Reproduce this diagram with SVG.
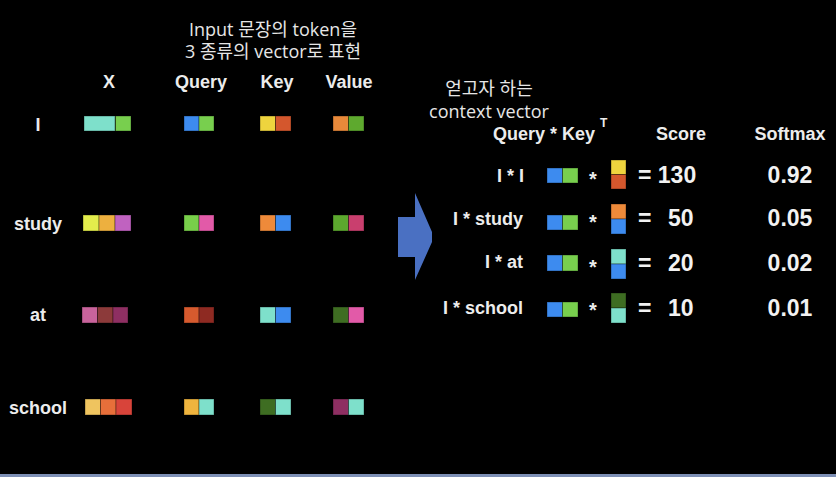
<svg xmlns="http://www.w3.org/2000/svg" width="836" height="477" viewBox="0 0 836 477">
<style>
.lbl{font-family:"Liberation Sans",Arial,sans-serif;font-weight:bold;font-size:18px;fill:#ececec}
.star{font-family:"Liberation Sans",Arial,sans-serif;font-weight:bold;font-size:20px;fill:#ececec}
.num{font-family:"Liberation Sans",Arial,sans-serif;font-weight:bold;font-size:23px;fill:#f2f2f2}
.kr{font-family:"Open Sans","Noto Sans CJK KR",sans-serif;font-size:18px;fill:#e6e6e6}
.c{stroke:#000;stroke-opacity:0.35;stroke-width:1}
</style>
<rect x="0" y="0" width="836" height="477" fill="#000"/>
<rect x="0" y="474" width="836" height="3" fill="#7d8fb5"/>

<g id="title">
<text class="kr" x="273" y="36" text-anchor="middle">Input 문장의 token을</text>
<text class="kr" x="273" y="58" text-anchor="middle">3 종류의 vector로 표현</text>
</g>

<g id="headers">
<text class="lbl" x="109" y="88" text-anchor="middle">X</text>
<text class="lbl" x="201" y="88" text-anchor="middle">Query</text>
<text class="lbl" x="277" y="88" text-anchor="middle">Key</text>
<text class="lbl" x="349" y="88" text-anchor="middle">Value</text>
</g>

<g id="row-I">
<text class="lbl" x="38" y="131" text-anchor="middle">I</text>
<rect class="c" x="84" y="116" width="31" height="15" fill="#7ee0cb"/>
<rect class="c" x="115.5" y="116" width="15.5" height="15" fill="#78cf4e"/>
<rect class="c" x="184" y="116" width="15" height="15" fill="#3d8bef"/>
<rect class="c" x="199" y="116" width="15" height="15" fill="#78cf4e"/>
<rect class="c" x="260" y="116" width="15.5" height="15" fill="#eed43e"/>
<rect class="c" x="275.5" y="116" width="15.5" height="15" fill="#d4572d"/>
<rect class="c" x="333" y="116" width="15.5" height="15" fill="#e8893a"/>
<rect class="c" x="348.5" y="116" width="15.5" height="15" fill="#5ea92e"/>
</g>

<g id="row-study">
<text class="lbl" x="14" y="230">study</text>
<rect class="c" x="83" y="215" width="16" height="16" fill="#e3ed4c"/>
<rect class="c" x="99" y="215" width="16" height="16" fill="#edb03f"/>
<rect class="c" x="115" y="215" width="16" height="16" fill="#c062c0"/>
<rect class="c" x="184" y="215" width="15" height="16" fill="#78cf4a"/>
<rect class="c" x="199" y="215" width="15" height="16" fill="#e25aa8"/>
<rect class="c" x="260" y="215" width="15.5" height="16" fill="#ee8a3a"/>
<rect class="c" x="275.5" y="215" width="15.5" height="16" fill="#3d8bef"/>
<rect class="c" x="333" y="215" width="15.5" height="16" fill="#5ca82e"/>
<rect class="c" x="348.5" y="215" width="15.5" height="16" fill="#c93f6e"/>
</g>

<g id="row-at">
<text class="lbl" x="38" y="321" text-anchor="middle">at</text>
<rect class="c" x="82" y="307" width="15.5" height="16" fill="#c8639b"/>
<rect class="c" x="97.5" y="307" width="15.5" height="16" fill="#8c3a3a"/>
<rect class="c" x="113" y="307" width="15" height="16" fill="#8e2f62"/>
<rect class="c" x="184" y="307" width="15" height="16" fill="#d65a2e"/>
<rect class="c" x="199" y="307" width="15" height="16" fill="#8e2a22"/>
<rect class="c" x="260" y="307" width="15.5" height="16" fill="#7ee0cb"/>
<rect class="c" x="275.5" y="307" width="15.5" height="16" fill="#3d8bef"/>
<rect class="c" x="333" y="307" width="15.5" height="16" fill="#3e6d22"/>
<rect class="c" x="348.5" y="307" width="15.5" height="16" fill="#e25aa8"/>
</g>

<g id="row-school">
<text class="lbl" x="9" y="414">school</text>
<rect class="c" x="85" y="399" width="15.5" height="16" fill="#efc45f"/>
<rect class="c" x="100.5" y="399" width="15.5" height="16" fill="#e76f3a"/>
<rect class="c" x="116" y="399" width="16" height="16" fill="#d8443a"/>
<rect class="c" x="184" y="399" width="15" height="16" fill="#efb43e"/>
<rect class="c" x="199" y="399" width="15" height="16" fill="#7ee0cb"/>
<rect class="c" x="260" y="399" width="15.5" height="16" fill="#3e6d22"/>
<rect class="c" x="275.5" y="399" width="15.5" height="16" fill="#7ee0cb"/>
<rect class="c" x="333" y="399" width="15.5" height="16" fill="#8e2f62"/>
<rect class="c" x="348.5" y="399" width="15.5" height="16" fill="#7ee0cb"/>
</g>

<g id="connectors">
<path d="M398,217 L415,217 L415,193 L432,232 L432,242 L415,280 L415,257 L398,257 Z" fill="#4a70c2"/>
</g>

<g id="context-label">
<text class="kr" x="489" y="95" text-anchor="middle">얻고자 하는</text>
<text class="kr" x="489" y="118" text-anchor="middle">context vector</text>
</g>

<g id="right-headers">
<text class="lbl" x="493" y="140">Query * Key</text>
<text class="lbl" x="600" y="127" style="font-size:12px">T</text>
<text class="lbl" x="681" y="140" text-anchor="middle">Score</text>
<text class="lbl" x="790" y="140" text-anchor="middle">Softmax</text>
</g>

<g id="score-I">
<text class="lbl" x="524" y="182" text-anchor="end">I * I</text>
<rect class="c" x="547" y="168" width="15.5" height="15" fill="#3d8bef"/>
<rect class="c" x="562.5" y="168" width="15.5" height="15" fill="#78cf4e"/>
<text class="star" x="593" y="186" text-anchor="middle">*</text>
<rect class="c" x="611" y="160" width="15" height="14.5" fill="#eed43e"/>
<rect class="c" x="611" y="174.5" width="15" height="14.5" fill="#d4572d"/>
<text class="num" x="638" y="183">= 130</text>
<text class="num" x="790" y="183" text-anchor="middle">0.92</text>
</g>

<g id="score-study">
<text class="lbl" x="523" y="225" text-anchor="end">I * study</text>
<rect class="c" x="547" y="215" width="15.5" height="15" fill="#3d8bef"/>
<rect class="c" x="562.5" y="215" width="15.5" height="15" fill="#78cf4e"/>
<text class="star" x="593" y="229" text-anchor="middle">*</text>
<rect class="c" x="611" y="204" width="15" height="15" fill="#ee8a3a"/>
<rect class="c" x="611" y="219" width="15" height="15" fill="#3d8bef"/>
<text class="num" x="638" y="226">=</text>
<text class="num" x="668" y="226">50</text>
<text class="num" x="790" y="226" text-anchor="middle">0.05</text>
</g>

<g id="score-at">
<text class="lbl" x="523" y="268" text-anchor="end">I * at</text>
<rect class="c" x="547" y="255" width="15.5" height="16" fill="#3d8bef"/>
<rect class="c" x="562.5" y="255" width="15.5" height="16" fill="#78cf4e"/>
<text class="star" x="593" y="274" text-anchor="middle">*</text>
<rect class="c" x="611" y="249" width="15" height="15" fill="#7ee0cb"/>
<rect class="c" x="611" y="264" width="15" height="15" fill="#3d8bef"/>
<text class="num" x="638" y="271">=</text>
<text class="num" x="668" y="271">20</text>
<text class="num" x="790" y="271" text-anchor="middle">0.02</text>
</g>

<g id="score-school">
<text class="lbl" x="523" y="314" text-anchor="end">I * school</text>
<rect class="c" x="547" y="302" width="15.5" height="15" fill="#3d8bef"/>
<rect class="c" x="562.5" y="302" width="15.5" height="15" fill="#78cf4e"/>
<text class="star" x="593" y="317" text-anchor="middle">*</text>
<rect class="c" x="611" y="293" width="15" height="15" fill="#3e6d22"/>
<rect class="c" x="611" y="308" width="15" height="15" fill="#7ee0cb"/>
<text class="num" x="638" y="316">=</text>
<text class="num" x="668" y="316">10</text>
<text class="num" x="790" y="316" text-anchor="middle">0.01</text>
</g>
</svg>
